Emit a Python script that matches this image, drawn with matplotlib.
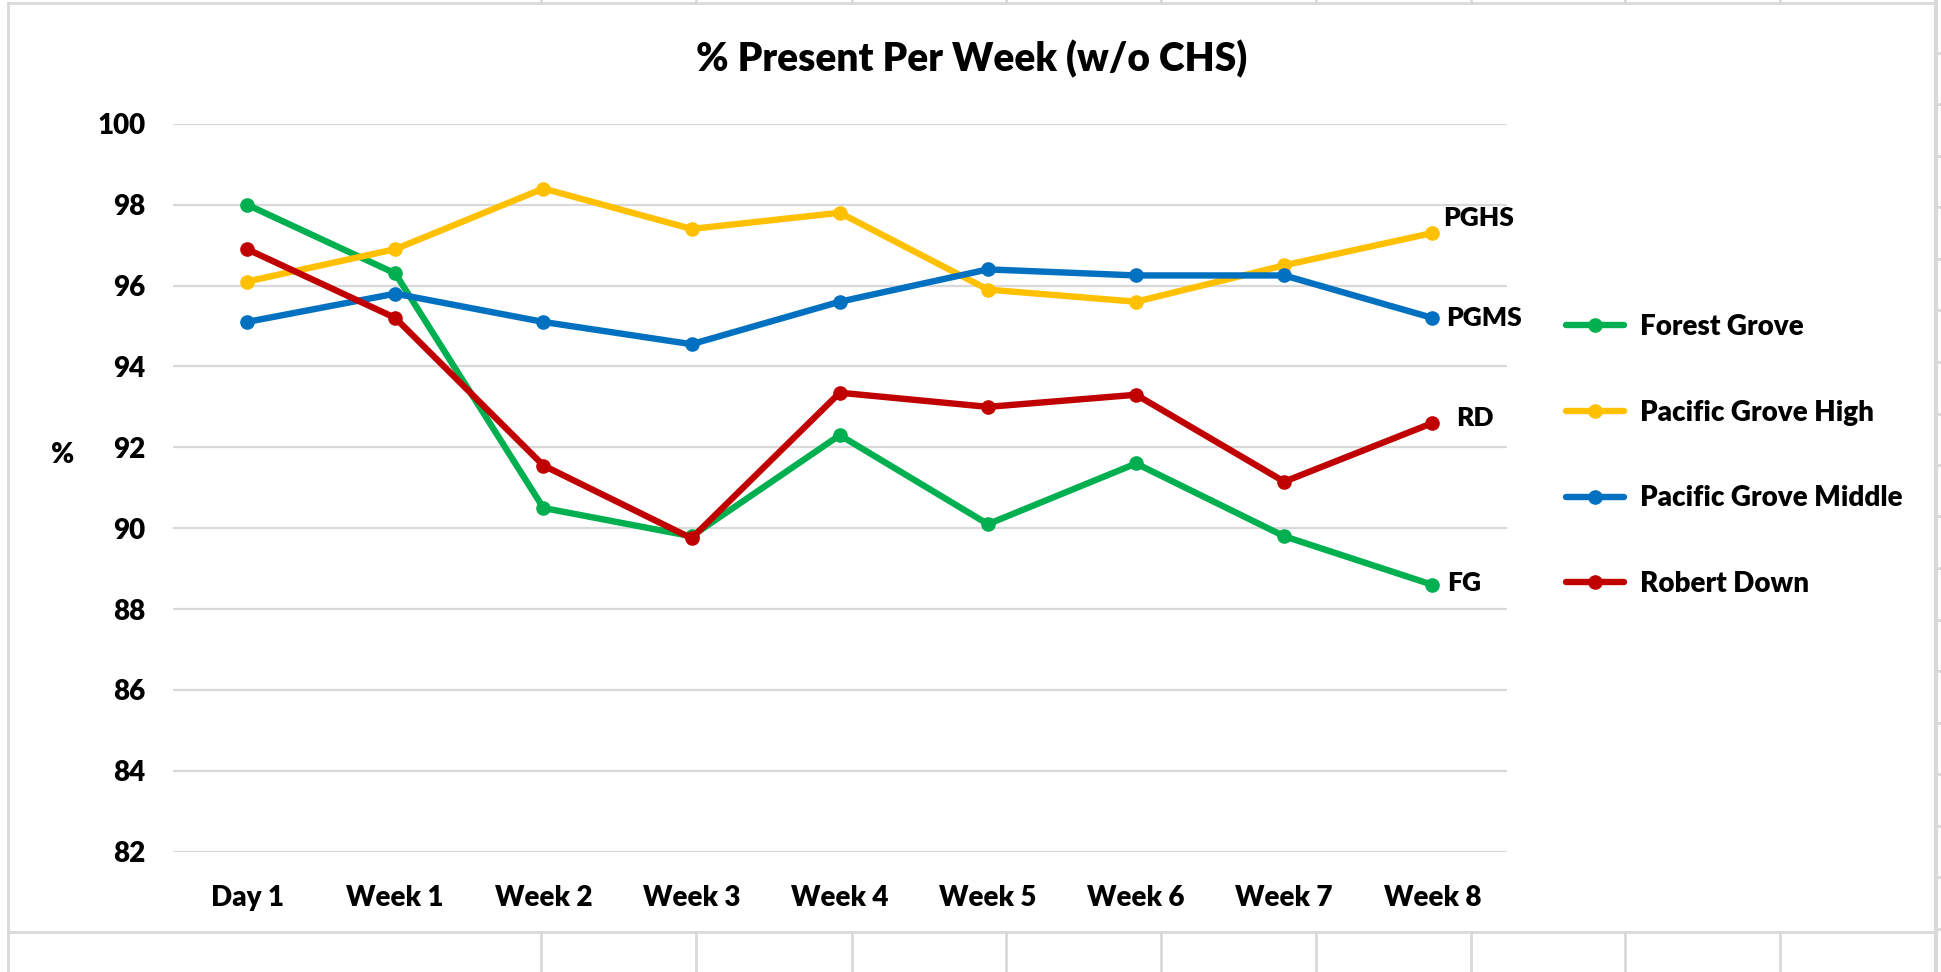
import matplotlib
matplotlib.use("Agg")
import matplotlib.pyplot as plt
from matplotlib.lines import Line2D

plt.rcParams["font.family"] = ["Lato", "DejaVu Sans"]
plt.rcParams["font.weight"] = 800

weeks = ["Day 1", "Week 1", "Week 2", "Week 3", "Week 4", "Week 5", "Week 6", "Week 7", "Week 8"]
forest_grove = [98.0, 96.3, 90.5, 89.8, 92.3, 90.1, 91.6, 89.8, 88.6]
pg_high = [96.1, 96.9, 98.4, 97.4, 97.8, 95.9, 95.6, 96.5, 97.3]
pg_middle = [95.1, 95.8, 95.1, 94.55, 95.6, 96.4, 96.25, 96.25, 95.2]
robert_down = [96.9, 95.2, 91.55, 89.75, 93.35, 93.0, 93.3, 91.15, 92.6]

series = [
    ("Forest Grove", forest_grove, "#00B050", "FG"),
    ("Pacific Grove High", pg_high, "#FFC000", "PGHS"),
    ("Pacific Grove Middle", pg_middle, "#0070C0", "PGMS"),
    ("Robert Down", robert_down, "#C00000", "RD"),
]
# label offsets (points) for the end-of-line tags
end_offsets = {"FG": (10.5, 1.5), "PGHS": (8, 11), "PGMS": (10, 0), "RD": (17, 3.5)}

fig = plt.figure(figsize=(19.41, 9.72), dpi=100)
ax = fig.add_axes([173 / 1941, 1 - 851.7 / 972, (1506.5 - 173) / 1941, (851.7 - 123.8) / 972])

x = list(range(len(weeks)))
handles = []
for name, vals, color, tag in series:
    (ln,) = ax.plot(x, vals, color=color, lw=4.6, marker="o", ms=9.5,
                    solid_capstyle="round", label=name, zorder=3)
    handles.append(ln)
    dx, dy = end_offsets[tag]
    ax.annotate(tag, xy=(x[-1], vals[-1]), xytext=(dx, dy), textcoords="offset points",
                ha="left", va="center", fontsize=19, color="black")

ax.set_xlim(-0.5, len(weeks) - 0.5)
ax.set_ylim(82, 100)
ax.set_yticks(range(82, 101, 2))
ax.set_xticks(x)
ax.set_xticklabels(weeks)
ax.tick_params(axis="both", length=0, labelsize=20)
ax.tick_params(axis="y", pad=20)
ax.tick_params(axis="x", pad=24)
for s in ax.spines.values():
    s.set_visible(False)
ax.yaxis.grid(True, color="#D9D9D9", lw=1.6)
ax.set_axisbelow(True)

fig.text(972 / 1941, 1 - 59 / 972, "% Present Per Week (w/o CHS)", ha="center", va="center",
         fontsize=28)
fig.text(63 / 1941, 1 - 455 / 972, "%", ha="center", va="center", fontsize=20)

leg = fig.legend(handles=handles, loc="upper left", bbox_to_anchor=(1566 / 1941, 1 - 314 / 972),
                 frameon=False, fontsize=20, handlelength=2.1, handletextpad=0.55,
                 labelspacing=2.15, borderpad=0, borderaxespad=0)

# spreadsheet cell lines around the chart object
grey = "#D9D9D9"
def fline(xs, ys, lw=2):
    fig.add_artist(Line2D([v / 1941 for v in xs], [1 - v / 972 for v in ys], color=grey, lw=lw))

fline([8, 1935], [3.5, 3.5])
fline([8, 8], [3.5, 972])
fline([1936, 1936], [0, 972], lw=3)
fline([8, 1935], [932, 932])
for cx in [541, 696, 852, 1006, 1161, 1316, 1471, 1625, 1780]:
    fline([cx, cx], [932, 972])
    fline([cx, cx], [0, 3.5])
ry = 53
while ry < 972:
    fline([1937, 1941], [ry, ry])
    ry += 51.5

fig.savefig("out.png", dpi=100)
